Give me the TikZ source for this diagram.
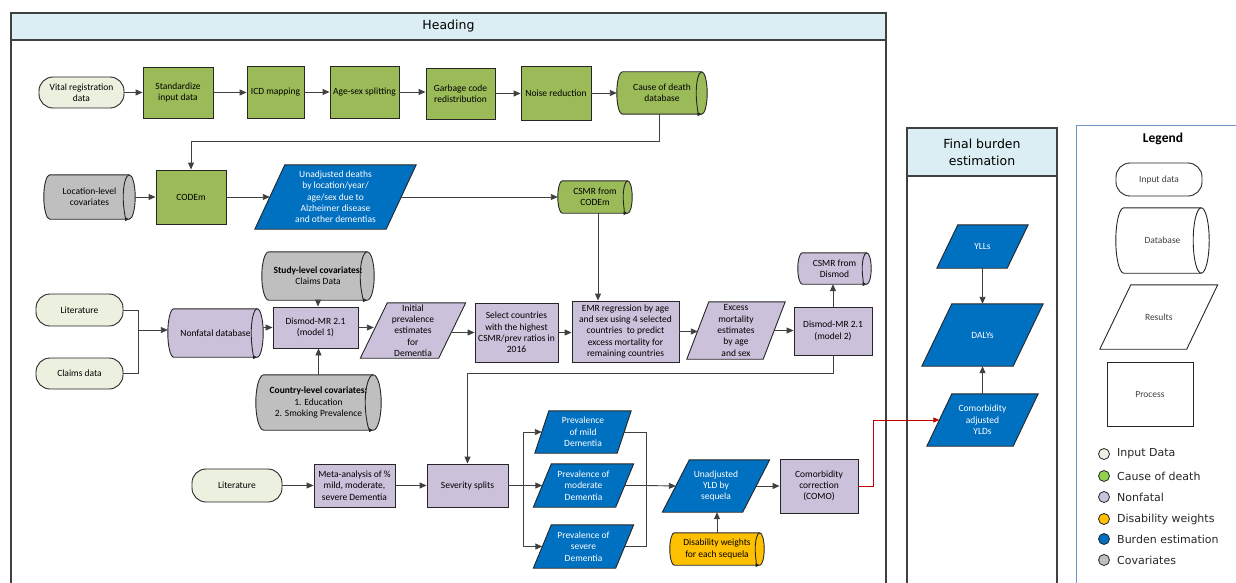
\documentclass[tikz,border=0pt]{standalone}
\usepackage{fontspec}
\setmainfont{Carlito}
\newfontfamily\dejavu{DejaVu Sans}
\usetikzlibrary{calc,arrows.meta,backgrounds}
\definecolor{hdr}{HTML}{DAEEF3}
\definecolor{cgreen}{HTML}{9BBB59}
\definecolor{cinput}{HTML}{EBF1DE}
\definecolor{cpurple}{HTML}{CCC1DA}
\definecolor{cblue}{HTML}{0070C0}
\definecolor{cgray}{HTML}{BFBFBF}
\definecolor{cyellow}{HTML}{FFC000}
\definecolor{lgreen}{HTML}{92D050}
\definecolor{bd}{HTML}{262626}
\definecolor{lncol}{HTML}{404040}
\definecolor{frm}{HTML}{404040}
\definecolor{cred}{HTML}{C00000}
\definecolor{lgb}{HTML}{6F94C8}
\tikzset{
 nbase/.style={inner sep=0pt, align=center, font=\fontsize{9.5}{11.3}\selectfont, text=black},
 boxp/.style={nbase, rectangle, draw=bd, line width=0.9pt},
 termp/.style={nbase, rectangle, rounded corners=14pt, draw=bd, line width=0.9pt},
 txtp/.style={nbase, rectangle},
 arr/.style={draw=lncol, line width=0.9pt, -{Triangle[length=7pt,width=6pt]}},
 lnk/.style={draw=lncol, line width=0.9pt},
 redarr/.style={draw=cred, line width=0.8pt, -{Triangle[length=6pt,width=5pt]}},
 cylarr/.style={-{Triangle[length=4pt,width=3.5pt]}},
 cylnone/.style={},
 frame/.style={draw=frm, line width=1.2pt},
 legtxt/.style={anchor=west, inner sep=0pt, font=\dejavu\fontsize{11}{13}\selectfont, text=bd},
 legdot/.style={circle, draw=bd, line width=0.8pt, minimum size=11pt, inner sep=0pt},
}
\newcommand{\mypgram}[3]{%
\begin{pgfonlayer}{background}
\filldraw[fill=#3, draw=bd, line width=0.9pt]
 ($(#1.north west)+(#2/2,0)$) -- ($(#1.north east)+(#2/2,0)$) --
 ($(#1.south east)-(#2/2,0)$) -- ($(#1.south west)-(#2/2,0)$) -- cycle;
\end{pgfonlayer}}
\newcommand{\mycyl}[4]{%
\begin{pgfonlayer}{background}
\filldraw[fill=#3, draw=bd, line width=0.9pt] let \p1=(#1.north west), \p2=(#1.south east), \n1={(\y1-\y2)/2} in
 (\x1+#2pt,\y1) -- (\x2-#2pt,\y1) arc[start angle=90,end angle=-90,x radius=#2pt,y radius=\n1]
 -- (\x1+#2pt,\y2) arc[start angle=270,end angle=90,x radius=#2pt,y radius=\n1] -- cycle;
\draw[draw=bd, line width=0.9pt, #4] let \p1=(#1.north west), \p2=(#1.south east), \n1={(\y1-\y2)/2} in
 (\x2-#2pt,\y1) arc[start angle=90,end angle=270,x radius=#2pt,y radius=\n1];
\end{pgfonlayer}}
\begin{document}
\begin{tikzpicture}[x=1pt,y=1pt]
\useasboundingbox (0,0) rectangle (1236,-583);
% ---------- frames ----------
\draw[frame, fill=hdr] (11,-13) rectangle (886,-40);
\draw[frame] (11,-40) -- (11,-600) (886,-40) -- (886,-600);
\node[font=\dejavu\fontsize{12.5}{15}\selectfont] (hd) at (448.5,-26.5) {Heading};
\draw[frame, fill=hdr] (907,-128) rectangle (1057,-176);
\draw[frame] (907,-176) -- (907,-600) (1057,-176) -- (1057,-600);
\node[align=center, font=\dejavu\fontsize{12.5}{17}\selectfont] (fbh) at (982,-152) {Final burden\\estimation};
\draw[draw=lgb, line width=1pt] (1076,-600) -- (1076,-126) -- (1250,-126);
\node[font=\bfseries\fontsize{13.5}{16}\selectfont] (lgt) at (1163,-139) {Legend};
% ---------- row 1 ----------
\node[termp, fill=cinput, minimum width=85pt, minimum height=31pt] (vr) at (81.5,-92.5) {Vital registration\\data};
\node[boxp, fill=cgreen, minimum width=70pt, minimum height=51pt] (std) at (178,-92.5) {Standardize\\input data};
\node[boxp, fill=cgreen, minimum width=57pt, minimum height=52pt] (icd) at (275.5,-92) {ICD mapping};
\node[boxp, fill=cgreen, minimum width=69pt, minimum height=52pt] (agesex) at (364.5,-92) {Age-sex splitting};
\node[boxp, fill=cgreen, minimum width=69pt, minimum height=51pt] (garb) at (460.5,-93.5) {Garbage code\\redistribution};
\node[boxp, fill=cgreen, minimum width=70pt, minimum height=54pt] (noise) at (556,-93) {Noise reduction};
\node[txtp, minimum width=90pt, minimum height=42pt] (coddb) at (662,-93) {Cause of death\\database};
\mycyl{coddb}{5.5}{cgreen}{cylarr}
% ---------- row 2 ----------
\node[txtp, minimum width=91pt, minimum height=44pt] (loccov) at (89.5,-197) {Location-level\\covariates};
\mycyl{loccov}{6}{cgray}{cylarr}
\node[boxp, fill=cgreen, minimum width=70pt, minimum height=54pt] (codem) at (191,-197) {CODEm};
\node[txtp, text=white, minimum width=131pt, minimum height=64pt] (unadj) at (335.5,-197) {Unadjusted deaths\\by location/year/\\age/sex due to\\Alzheimer disease\\and other dementias};
\mypgram{unadj}{30}{cblue}
\node[txtp, minimum width=74pt, minimum height=32pt] (csmr1) at (595,-197) {CSMR from\\CODEm};
\mycyl{csmr1}{4.5}{cgreen}{cylarr}
% ---------- row 3 ----------
\node[txtp, minimum width=112pt, minimum height=48pt] (studycov) at (318,-276) {\textbf{Study-level covariates:}\\Claims Data};
\mycyl{studycov}{7}{cgray}{cylarr}
\node[termp, fill=cinput, minimum width=87pt, minimum height=32pt] (lit1) at (79.5,-310) {Literature};
\node[termp, fill=cinput, minimum width=87pt, minimum height=31pt] (claims) at (79.5,-373.5) {Claims data};
\node[txtp, minimum width=95pt, minimum height=48pt] (nfdb) at (215.5,-333) {Nonfatal database};
\mycyl{nfdb}{6}{cpurple}{cylarr}
\node[boxp, fill=cpurple, minimum width=85pt, minimum height=41pt] (dm1) at (315.5,-327.5) {Dismod-MR 2.1\\(model 1)};
\node[txtp, minimum width=125pt, minimum height=55pt] (ctrycov) at (318.5,-402.5) {\textbf{Country-level covariates:}\\1. Education\\2. Smoking Prevalence};
\mycyl{ctrycov}{8}{cgray}{cylarr}
\node[txtp, minimum width=78pt, minimum height=55pt] (initprev) at (413,-330.5) {Initial\\prevalence\\estimates\\for\\Dementia};
\mypgram{initprev}{27}{cpurple}
\node[boxp, fill=cpurple, minimum width=83pt, minimum height=59pt] (select) at (516.5,-332.5) {Select countries\\with the highest\\CSMR/prev ratios in\\2016};
\node[boxp, fill=cpurple, minimum width=107pt, minimum height=61pt] (emr) at (625.5,-331.5) {EMR regression by age\\and sex using 4 selected\\countries\ \ to predict\\excess mortality for\\remaining countries};
\node[txtp, minimum width=76pt, minimum height=57pt] (excess) at (736,-330.5) {Excess\\mortality\\estimates\\by age\\and sex};
\mypgram{excess}{22}{cpurple}
\node[boxp, fill=cpurple, minimum width=78pt, minimum height=48pt] (dm2) at (833,-331) {Dismod-MR 2.1\\(model 2)};
\node[txtp, minimum width=73pt, minimum height=31pt] (csmr2) at (834.5,-268.5) {CSMR from\\Dismod};
\mycyl{csmr2}{4.5}{cpurple}{cylarr}
% ---------- row 4 ----------
\node[termp, fill=cinput, minimum width=90pt, minimum height=33pt] (lit2) at (237,-485.5) {Literature};
\node[boxp, fill=cpurple, minimum width=81pt, minimum height=43pt] (meta) at (354.5,-485.5) {Meta-analysis of \%\\mild, moderate,\\severe Dementia};
\node[boxp, fill=cpurple, minimum width=81pt, minimum height=43pt] (sev) at (467.5,-485.5) {Severity splits};
\node[txtp, text=white, minimum width=82pt, minimum height=42pt] (mild) at (583,-432) {Prevalence\\of mild\\Dementia};
\mypgram{mild}{14}{cblue}
\node[txtp, text=white, minimum width=82pt, minimum height=43pt] (moder) at (583.5,-485.5) {Prevalence of\\moderate\\Dementia};
\mypgram{moder}{18}{cblue}
\node[txtp, text=white, minimum width=82pt, minimum height=43pt] (sever) at (583.5,-546.5) {Prevalence of\\severe\\Dementia};
\mypgram{sever}{18}{cblue}
\node[txtp, text=white, minimum width=80pt, minimum height=52pt] (yld) at (716,-486) {Unadjusted\\YLD by\\sequela};
\mypgram{yld}{27}{cblue}
\node[boxp, fill=cpurple, minimum width=78pt, minimum height=54pt] (como) at (819,-486) {Comorbidity\\correction\\(COMO)};
\node[txtp, minimum width=94pt, minimum height=32pt] (dw) at (717,-549) {Disability weights\\for each sequela};
\mycyl{dw}{4.5}{cyellow}{cylarr}
% ---------- final burden ----------
\node[txtp, text=white, minimum width=70pt, minimum height=43pt] (ylls) at (982.5,-246.5) {YLLs};
\mypgram{ylls}{21}{cblue}
\node[txtp, text=white, minimum width=91pt, minimum height=62pt] (dalys) at (982.5,-335) {DALYs};
\mypgram{dalys}{30}{cblue}
\node[txtp, text=white, minimum width=86pt, minimum height=52pt] (cayld) at (982.5,-420) {Comorbidity\\adjusted\\YLDs};
\mypgram{cayld}{25}{cblue}
% ---------- legend shapes ----------
\node[termp, fill=white, minimum width=86pt, minimum height=33pt, text=lncol] (lgin) at (1159,-179.5) {Input data};
\node[txtp, minimum width=93pt, minimum height=65pt, text=lncol] (lgdb) at (1162.5,-240.5) {Database};
\mycyl{lgdb}{8}{white}{cylnone}
\node[txtp, minimum width=86.5pt, minimum height=64pt, text=lncol] (lgres) at (1158.75,-317) {Results};
\mypgram{lgres}{31}{white}
\node[boxp, fill=white, minimum width=86pt, minimum height=64pt, text=lncol] (lgproc) at (1150,-394) {Process};
% ---------- legend dots ----------
\node[legdot, fill=cinput] (d1) at (1104,-454) {};
\node[legtxt] (t1) at (1117,-454) {Input Data};
\node[legdot, fill=lgreen] (d2) at (1104,-476) {};
\node[legtxt] (t2) at (1117,-476) {Cause of death};
\node[legdot, fill=cpurple] (d3) at (1104,-497) {};
\node[legtxt] (t3) at (1117,-497) {Nonfatal};
\node[legdot, fill=cyellow] (d4) at (1104,-519) {};
\node[legtxt] (t4) at (1117,-519) {Disability weights};
\node[legdot, fill=cblue] (d5) at (1104,-539) {};
\node[legtxt] (t5) at (1117,-539) {Burden estimation};
\node[legdot, fill=cgray] (d6) at (1104,-560) {};
\node[legtxt] (t6) at (1117,-560) {Covariates};
% ---------- connectors ----------
\draw[arr] (vr.east) -- (vr.east -| std.west);
\draw[arr] (std.east) -- (std.east -| icd.west);
\draw[arr] (icd.east) -- (icd.east -| agesex.west);
\draw[arr] (agesex.east) -- (agesex.east -| garb.west);
\draw[arr] (garb.east) -- (garb.east -| noise.west);
\draw[arr] (noise.east) -- (noise.east -| coddb.west);
\draw[arr] ([xshift=-3pt]coddb.south) -- ++(0,-27) -| (codem.north);
\draw[arr] (loccov.east) -- (loccov.east -| codem.west);
\draw[arr] (codem.east) -- (unadj.west);
\draw[arr] (unadj.east) -- (csmr1.west);
\draw[arr] ([xshift=3pt]csmr1.south) -- ([xshift=3pt]csmr1.south |- emr.north);
\coordinate (mg) at (138,-330);
\draw[lnk] (lit1.east) -| (mg);
\draw[lnk] (claims.east) -| (mg);
\draw[arr] (mg) -- (mg -| nfdb.west);
\draw[arr] (nfdb.east |- dm1.west) -- (dm1.west);
\draw[arr] (studycov.south) -- (studycov.south |- dm1.north);
\draw[arr] (ctrycov.north) -- (ctrycov.north |- dm1.south);
\draw[arr] (dm1.east) -- (dm1.east -| initprev.west);
\draw[arr] (initprev.east |- select.west) -- (select.west);
\draw[arr] (select.east) -- (select.east -| emr.west);
\draw[arr] (emr.east) -- (emr.east -| excess.west);
\draw[arr] (excess.east) -- (excess.east -| dm2.west);
\draw[arr] (dm2.north) -- (csmr2.south -| dm2.north);
\draw[arr] (dm2.south) -- ++(0,-18) -| (sev.north);
\draw[arr] (lit2.east) -- (meta.west);
\draw[arr] (meta.east) -- (sev.west);
\coordinate (jl) at (523,-485.5);
\coordinate (jr) at (646,-485.5);
\draw[lnk] (sev.east) -- (jl);
\draw[arr] (jl) |- (mild.west);
\draw[arr] (jl) -- (moder.west);
\draw[arr] (jl) |- (sever.west);
\draw[lnk] (mild.east) -| (jr);
\draw[lnk] (sever.east) -| (jr);
\draw[lnk] (moder.east) -- (jr);
\draw[arr] (jr) -- (yld.west);
\draw[arr] (yld.east) -- (como.west);
\draw[arr] (dw.north) -- (dw.north |- yld.south);
\draw[redarr] (como.east) -- (873,-486) |- (cayld.west);
\draw[arr] (ylls.south) -- (dalys.north);
\draw[arr] (cayld.north) -- (dalys.south);
\end{tikzpicture}
\end{document}
